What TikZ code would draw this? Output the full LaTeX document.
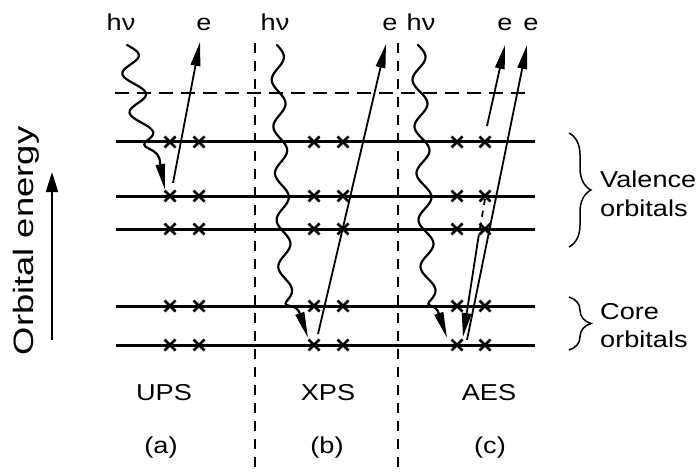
\documentclass[tikz,border=0pt]{standalone}
\usepackage{fontspec}
\usepackage{graphicx}
\setmainfont{Liberation Sans}
\usetikzlibrary{arrows.meta,decorations.pathreplacing}
\newcommand{\wx}[1]{\scalebox{1.18}[1]{#1}}
\begin{document}
\begin{tikzpicture}[x=1pt,y=-1pt,
  orblevel/.style={line width=3pt},
  xmark/.style={line width=2.6pt},
  wave/.style={line width=2.2pt, line cap=round, -{Triangle[length=26pt,width=9pt]}},
  elec/.style={line width=1.8pt, -{Triangle[length=24pt,width=9.5pt]}},
  divider/.style={line width=1.1pt, dash pattern=on 10pt off 8pt},
  vac/.style={line width=1.3pt, dash pattern=on 14pt off 8pt},
  lbl/.style={font=\fontsize{23}{26}\selectfont, inner sep=0pt, anchor=base},
  brc/.style={line width=1.5pt, decorate, decoration={brace, amplitude=22pt}},
]
\useasboundingbox (0,0) rectangle (698,473);

% dividers
\draw[divider] (255,43) -- (255,473);
\draw[divider] (398,43) -- (398,473);

% vacuum level
\draw[vac] (115,93) -- (530,93);

% orbital levels
\foreach \y in {142,196,229,306,345}
  \draw[orblevel] (116,\y) -- (535,\y);

% electrons (crosses)
\foreach \y in {142,196,229,306,345}
  \foreach \x in {170,199,314,343,457,485}
    \draw[xmark] (\x-5.5,\y-5.5) -- (\x+5.5,\y+5.5) (\x-5.5,\y+5.5) -- (\x+5.5,\y-5.5);

% photons
\draw[wave] plot[smooth, samples=80, domain=0:1, variable=\t]
  ({127+18*\t+10*sin(900*\t)}, {45+97*\t})
  .. controls (140,150) and (160,147) .. (160,163) -- (165,190);
\draw[wave] plot[smooth, samples=120, domain=0:1, variable=\t]
  ({277+9*\t+6.5*sin(1980*\t)}, {45+257*\t})
  .. controls (282,308) and (297,303) .. (300,314) -- (308,338);
\draw[wave] plot[smooth, samples=120, domain=0:1, variable=\t]
  ({418+11*\t+7*sin(1980*\t)}, {45+257*\t})
  .. controls (425,308) and (436,303) .. (439,314) -- (447,338);

% emitted electrons
\coordinate (ua0) at (173,183); \coordinate (ua1) at (200,42);
\coordinate (xb0) at (318,334); \coordinate (xb1) at (386,44);
\coordinate (ac0) at (487,126); \coordinate (ac1) at (505,45);
\coordinate (ad0) at (467,340); \coordinate (ad1) at (527,45);
\coordinate (af0) at (485,199); \coordinate (afm) at (478,240); \coordinate (af1) at (463,337);
\draw[elec] (ua0) -- (ua1);
\draw[elec] (xb0) -- (xb1);
\draw[elec] (ac0) -- (ac1);
\draw[elec] (ad0) -- (ad1);
\draw[line width=1.8pt, dash pattern=on 6pt off 6pt] (af0) -- (afm);
\draw[elec] (afm) -- (af1);

% top labels
\node[lbl] (hva) at (121,31) {\wx{hν}};
\node[lbl] (ea) at (204,31) {\wx{e}};
\node[lbl] (hvb) at (275,31) {\wx{hν}};
\node[lbl] (eb) at (390,31) {\wx{e}};
\node[lbl] (hvc) at (421,31) {\wx{hν}};
\node[lbl] (ec1) at (505,31) {\wx{e}};
\node[lbl] (ec2) at (531,31) {\wx{e}};

% bottom labels
\node[lbl] (ups) at (164,400) {\wx{UPS}};
\node[lbl] (xps) at (328,400) {\wx{XPS}};
\node[lbl] (aes) at (489,400) {\wx{AES}};
\node[lbl] (pa) at (161,453) {\wx{(a)}};
\node[lbl] (pb) at (327,453) {\wx{(b)}};
\node[lbl] (pc) at (490,453) {\wx{(c)}};

% braces and right labels
\draw[brc] (569,133) -- (569,247);
\draw[brc] (569,297) -- (569,350);
\node[lbl, anchor=base west] (val1) at (600,188) {\wx{Valence}};
\node[lbl, anchor=base west] (val2) at (600,216) {\wx{orbitals}};
\node[lbl, anchor=base west] (cor1) at (600,319) {\wx{Core}};
\node[lbl, anchor=base west] (cor2) at (600,347) {\wx{orbitals}};

% energy axis
\coordinate (en0) at (52,340); \coordinate (en1) at (52,172);
\draw[line width=2.4pt, -{Triangle[length=20pt,width=12pt]}] (en0) -- (en1);
\node[font=\fontsize{28}{30}\selectfont, inner sep=0pt, anchor=base, rotate=90] (oe) at (33,241) {\scalebox{1.3}[1]{Orbital energy}};
\end{tikzpicture}
\end{document}
